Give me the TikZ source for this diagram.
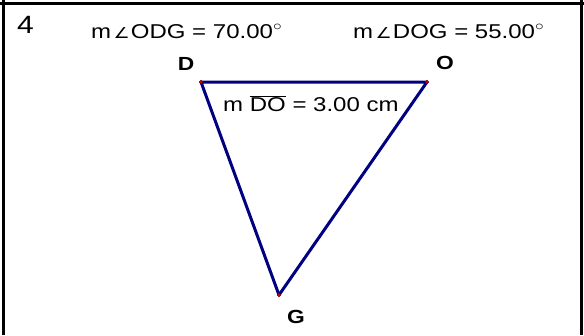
\documentclass[tikz,border=0pt]{standalone}
\usepackage{fontspec}
\setmainfont{Liberation Sans}
\newfontfamily\symfont{DejaVu Sans}
\usepackage{graphicx}
\usepackage{tikz}
\usetikzlibrary{positioning}
\definecolor{segblue}{HTML}{000080}
\definecolor{ptred}{HTML}{D00000}
\newcommand{\widen}[1]{\scalebox{1.2}[1]{#1}}
\newcommand{\angsym}{\hspace{2pt}{\symfont\fontsize{15}{16}\selectfont ∠}\hspace{1pt}}

\begin{document}
\begin{tikzpicture}[
  x=1pt, y=-1pt,
  every node/.style={font=\fontsize{20}{22}\selectfont, inner sep=0pt},
  measure/.style={anchor=base west},
  vlabel/.style={anchor=base, font=\fontsize{19}{21}\selectfont\bfseries},
  seg/.style={draw=segblue, line width=3pt, line cap=round, line join=round},
  frame/.style={draw=black, line width=3pt},
  vdot/.style={circle, fill=ptred, draw=red!40!black, line width=0.3pt,
    minimum size=3.6pt, inner sep=0pt},
]
\useasboundingbox (0,0) rectangle (584,335);

% cell frame
\draw[frame] (3,0) -- (3,335);
\draw[frame] (581,0) -- (581,335);
\draw[frame] (0,3.7) -- (584,3.7);

% triangle
\coordinate (D) at (201,82);
\coordinate (O) at (427,82);
\coordinate (G) at (279,295);
\draw[seg] (D) -- (O) -- (G) -- cycle;
\foreach \p in {D,O,G}
  \node[vdot] (dot\p) at (\p) {};

% labels
\node[measure, font=\fontsize{25}{27}\selectfont] (num) at (17,33) {\widen{4}};
\node[measure] (angODG) at (91,38) {\widen{m\angsym ODG = 70.00$^{\circ}$}};
\node[measure] (angDOG) at (353,38) {\widen{m\angsym DOG = 55.00$^{\circ}$}};
\node[measure] (lenDO) at (223,111.5) {\widen{m $\overline{\mbox{DO}}$ = 3.00 cm}};
\node[vlabel] (labD) at (186,70.5) {\widen{D}};
\node[vlabel] (labO) at (445,69) {\widen{O}};
\node[vlabel] (labG) at (296,323) {\widen{G}};
\end{tikzpicture}
\end{document}
